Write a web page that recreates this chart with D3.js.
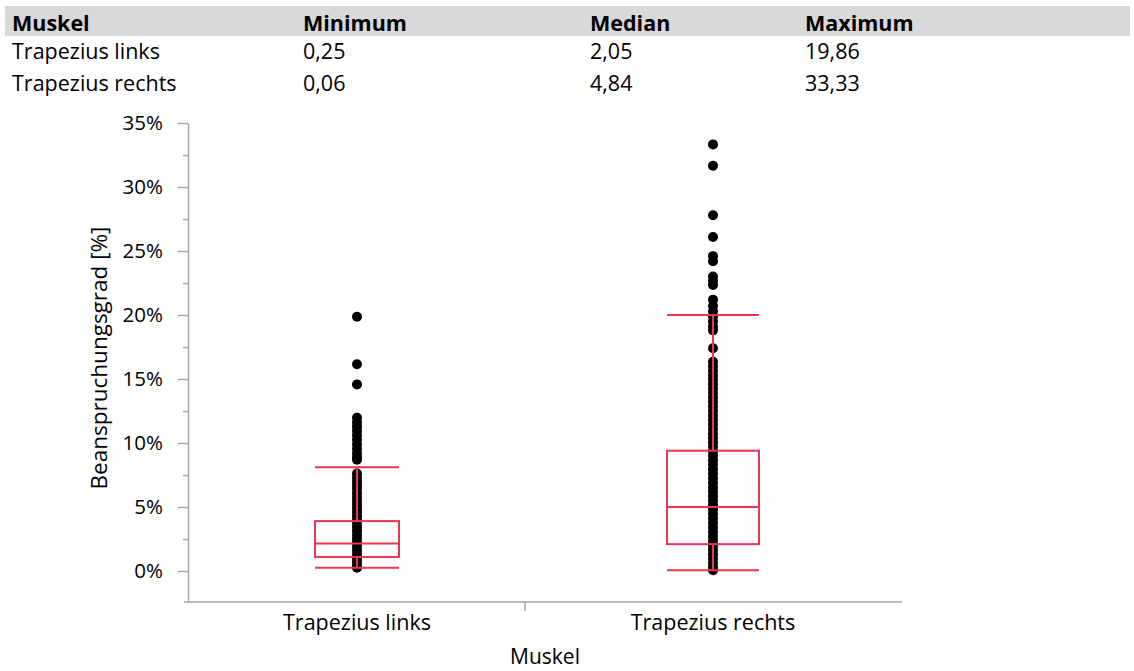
<!DOCTYPE html>
<html>
<head>
<meta charset="utf-8">
<script src="https://cdn.jsdelivr.net/npm/d3@7"></script>
<style>
	body { margin: 0; background: #fff; }
	svg { display: block; font-family: "Open Sans", sans-serif; }
	.axis path, .axis line { stroke: #a6a6a6; stroke-width: 1.5; }
	.axis text { fill: #000; font-size: 20.5px; font-family: "Open Sans", sans-serif; }
	.axis .xlabel { font-size: 21.5px; }
</style>
</head>
<body>
<div id="chart"></div>
<script>
// table above the chart
const tableHeader = ["Muskel", "Minimum", "Median", "Maximum"];
const tableRows = [
	["Trapezius links", "0,25", "2,05", "19,86"],
	["Trapezius rechts", "0,06", "4,84", "33,33"]
];

// chart
const muscles = ["Trapezius links", "Trapezius rechts"];
const yTicks = [0, 5, 10, 15, 20, 25, 30, 35];
const yMinorTicks = [2.5, 7.5, 12.5, 17.5, 22.5, 27.5, 32.5];

// box stats in %, one value per muscle
const whiskerLow = [0.25, 0.06];
const quartile1 = [1.1, 2.1];
const median = [2.15, 5.0];
const quartile3 = [3.9, 9.4];
const whiskerHigh = [8.1, 20.0];

const linksPoints = [19.86, 16.15, 14.58, 11.98, 11.62, 11.3, 10.95, 10.6, 10.25, 9.9, 9.55, 9.2, 8.9, 8.7,
	7.62, 7.3, 7.0, 6.7, 6.4, 6.1, 5.8, 5.5, 5.2, 4.9, 4.6, 4.3, 4.0, 3.7, 3.4, 3.1, 2.8, 2.5, 2.2, 1.9,
	1.6, 1.3, 1.0, 0.7, 0.45, 0.25];
const rechtsPoints = [33.33, 31.66, 27.8, 26.1, 24.6, 24.2, 23.0, 22.65, 22.35, 21.2, 20.7, 20.3, 19.9,
	19.5, 19.1, 18.8, 17.4, 16.35, 16.0, 15.65, 15.3, 14.95, 14.6, 14.25, 13.9, 13.55, 13.2, 12.85, 12.5,
	12.15, 11.8, 11.45, 11.1, 10.75, 10.4, 10.05, 9.7, 9.35, 9.0, 8.65, 8.3, 7.95, 7.6, 7.25, 6.9, 6.55,
	6.2, 5.85, 5.5, 5.15, 4.8, 4.45, 4.1, 3.75, 3.4, 3.05, 2.7, 2.35, 2.0, 1.65, 1.3, 0.95, 0.6, 0.3, 0.06];
const points = [linksPoints, rechtsPoints];

const width = 1134;
const height = 671;
const red = "#e8374f";
const boxWidths = [84, 92];

const svg = d3.select("#chart")
	.append("svg")
	.attr("width", width)
	.attr("height", height);

// --- table
const colX = [12, 303, 590, 805];
svg.append("rect")
	.attr("x", 5).attr("y", 6)
	.attr("width", 1125).attr("height", 30)
	.attr("fill", "#d9d9d9");

svg.append("g").selectAll("text")
	.data(tableHeader)
	.join("text")
	.attr("x", (d, i) => colX[i])
	.attr("y", 31)
	.attr("font-size", 21.5)
	.attr("font-weight", "bold")
	.text(d => d);

tableRows.forEach((row, r) => {
	svg.append("g").selectAll("text")
		.data(row)
		.join("text")
		.attr("x", (d, i) => colX[i])
		.attr("y", 58.5 + r * 32.5)
		.attr("font-size", 21.5)
		.text(d => d);
});

// --- chart
const plotLeft = 188, plotRight = 902, plotBottom = 602, plotTop = 123;

const yscale = d3.scaleLinear()
	.domain([-2.42, 35])
	.range([plotBottom, plotTop]);

const xscale = d3.scalePoint()
	.domain(muscles)
	.range([357, 713]);

const y_axis = d3.axisLeft(yscale)
	.tickValues(yTicks)
	.tickSize(10)
	.tickSizeOuter(0)
	.tickPadding(15)
	.tickFormat(d => d + "%");

svg.append("g")
	.attr("class", "axis")
	.attr("transform", "translate(" + plotLeft + ",0)")
	.call(y_axis);

svg.append("g")
	.attr("class", "axis")
	.attr("transform", "translate(" + plotLeft + ",0)")
	.call(d3.axisLeft(yscale).tickValues(yMinorTicks).tickSize(5).tickFormat(""))
	.call(g => g.select(".domain").remove());

// x axis
const xAxisG = svg.append("g").attr("class", "axis");
xAxisG.append("line")
	.attr("x1", plotLeft - 4).attr("x2", plotRight)
	.attr("y1", plotBottom).attr("y2", plotBottom);
xAxisG.append("line")
	.attr("x1", 525).attr("x2", 525)
	.attr("y1", plotBottom).attr("y2", plotBottom + 9);
xAxisG.selectAll("text")
	.data(muscles)
	.join("text")
	.attr("class", "xlabel")
	.attr("x", d => xscale(d))
	.attr("y", 630)
	.attr("text-anchor", "middle")
	.text(d => d);

svg.append("text")
	.attr("x", 545).attr("y", 664)
	.attr("text-anchor", "middle")
	.attr("font-size", 21)
	.text("Muskel");

svg.append("text")
	.attr("transform", "translate(107,358) rotate(-90)")
	.attr("text-anchor", "middle")
	.attr("font-size", 22.5)
	.text("Beanspruchungsgrad [%]");

// dots
points.forEach((vals, i) => {
	svg.append("g").selectAll("circle")
		.data(vals)
		.join("circle")
		.attr("cx", xscale(muscles[i]))
		.attr("cy", d => yscale(d))
		.attr("r", 5)
		.attr("fill", "#000");
});

// boxes
muscles.forEach((m, i) => {
	const cx = xscale(m);
	const hw = boxWidths[i] / 2;
	const g = svg.append("g")
		.attr("stroke", red)
		.attr("stroke-width", 2)
		.attr("fill", "none");
	g.append("line").attr("x1", cx).attr("x2", cx)
		.attr("y1", yscale(whiskerHigh[i])).attr("y2", yscale(quartile3[i]));
	g.append("line").attr("x1", cx).attr("x2", cx)
		.attr("y1", yscale(quartile1[i])).attr("y2", yscale(whiskerLow[i]));
	g.append("line").attr("x1", cx - hw).attr("x2", cx + hw)
		.attr("y1", yscale(whiskerHigh[i])).attr("y2", yscale(whiskerHigh[i]));
	g.append("line").attr("x1", cx - hw).attr("x2", cx + hw)
		.attr("y1", yscale(whiskerLow[i])).attr("y2", yscale(whiskerLow[i]));
	g.append("rect")
		.attr("x", cx - hw).attr("width", boxWidths[i])
		.attr("y", yscale(quartile3[i]))
		.attr("height", yscale(quartile1[i]) - yscale(quartile3[i]));
	g.append("line").attr("x1", cx - hw).attr("x2", cx + hw)
		.attr("y1", yscale(median[i])).attr("y2", yscale(median[i]));
});
</script>
</body>
</html>
